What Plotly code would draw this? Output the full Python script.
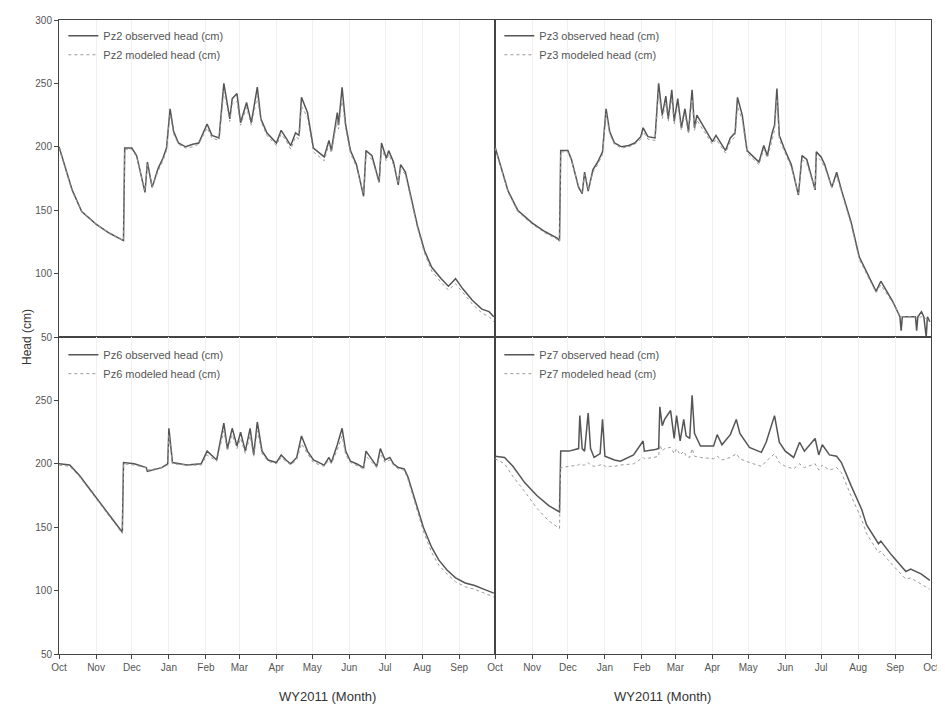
import pandas as pd
import plotly.graph_objects as go
from plotly.subplots import make_subplots

# ---------------- data (day of water year from 2010-10-01, head in cm) -------------
days2 = [0,5,11,19,31,42,52,54,55,61,65,72,74,78,83,87,90,92,93,96,100,106,112,117,124,128,134,138,143,145,149,152,157,161,166,169,174,182,186,190,194,198,201,203,208,213,222,226,228,233,234,237,240,244,249,255,257,262,268,270,274,276,280,284,286,290,295,300,306,312,320,326,332,338,346,354,360,364]
pz2_obs = [200,185,166,149,139,132,127,126,199,199,193,164,188,168,183,191,199,220,230,212,203,200,202,203,218,209,207,250,222,238,242,219,235,219,247,222,211,203,213,207,201,211,209,239,227,199,192,205,197,227,217,247,217,197,186,161,197,193,172,203,191,197,188,170,186,180,160,138,118,105,96,90,96,88,79,72,70,66]
pz2_mod = [199,184,165,149,139,132,127,126,198,198,192,165,186,168,181,189,197,216,226,210,202,199,200,202,215,207,205,244,220,234,236,217,231,217,240,220,209,201,210,205,198,208,206,232,223,196,189,202,195,222,214,238,214,195,184,163,194,190,172,199,189,194,186,171,183,178,158,136,116,102,93,87,92,85,76,69,66,62]

days3 = [0,5,11,19,31,42,52,54,55,61,64,70,73,75,78,82,86,90,92,93,96,100,106,112,117,122,124,128,134,137,140,143,145,148,150,153,156,159,162,165,167,169,182,185,193,197,201,203,207,211,221,225,228,232,234,236,238,242,248,254,257,261,268,269,273,276,282,286,290,298,305,315,319,323,333,339,340,341,352,353,354,357,359,361,362,364]
pz3_obs = [200,184,165,150,140,133,128,126,197,197,190,168,163,180,165,182,188,196,215,230,212,203,200,201,203,208,215,208,207,250,225,240,222,245,220,238,215,230,212,245,215,225,204,209,197,207,211,239,225,197,188,201,193,211,217,246,209,199,186,162,193,190,166,196,192,186,168,180,166,141,113,94,86,94,78,66,55,66,66,55,66,70,66,50,66,62]
pz3_mod = [199,183,164,149,139,132,127,125,196,196,189,169,164,178,166,180,186,194,212,226,210,202,199,200,202,206,212,206,205,243,222,235,220,238,218,233,213,226,210,238,213,221,202,206,195,204,208,232,221,195,186,198,191,207,213,238,206,197,184,163,190,187,166,193,189,184,168,177,164,139,111,92,85,91,77,67,66,66,66,65,65,66,65,64,64,62]

days6 = [0,9,17,30,41,52,53,54,63,73,74,86,91,92,95,107,119,124,132,138,141,145,149,152,156,160,163,166,170,175,182,186,190,194,199,203,208,213,222,226,228,233,237,240,244,249,255,257,262,266,269,273,277,280,284,289,292,298,305,312,318,325,332,340,348,356,364]
pz6_obs = [200,199,191,175,161,148,146,201,200,197,194,197,200,228,201,199,200,210,203,232,212,228,214,225,210,228,207,233,210,203,201,207,203,200,205,222,210,203,199,205,201,215,228,210,202,200,197,210,203,198,212,203,205,200,197,196,190,172,150,134,124,116,110,106,104,101,98]
pz6_mod = [199,198,190,174,160,147,145,200,199,197,195,197,199,223,200,199,199,207,202,226,210,223,212,220,208,222,206,226,208,202,200,205,202,199,203,216,208,201,198,203,200,211,222,207,201,199,196,206,201,197,208,201,203,199,196,195,188,169,147,130,120,113,107,103,101,98,95]

days7 = [0,8,15,25,35,45,54,55,62,70,71,73,75,78,80,83,88,90,92,100,105,116,124,125,133,137,138,140,142,147,150,152,155,158,160,163,165,167,172,183,186,190,197,202,205,213,223,227,234,238,243,250,255,259,268,271,274,280,286,290,298,307,311,321,323,332,344,348,357,364]
pz7_obs = [206,205,198,185,175,167,162,210,210,212,238,212,210,240,212,205,208,235,206,203,202,207,218,210,211,212,245,230,235,242,220,238,218,235,222,220,254,224,214,214,223,215,223,235,224,213,209,217,238,217,210,205,217,210,220,207,215,207,206,201,183,164,152,137,139,128,115,117,113,108]
pz7_mod = [204,200,190,178,165,155,149,197,198,199,200,199,199,201,199,198,199,200,198,198,199,200,205,204,205,206,215,210,212,213,208,212,207,210,206,205,212,206,205,204,206,203,205,208,204,201,198,202,208,201,198,196,200,197,200,195,199,195,197,193,175,156,145,130,131,121,109,110,105,101]

month_ticks = ["Oct","Nov","Dec","Jan","Feb","Mar","Apr","May","Jun","Jul","Aug","Sep","Oct"]
month_dates = ["2010-10-01","2010-11-01","2010-12-01","2011-01-01","2011-02-01","2011-03-01",
               "2011-04-01","2011-05-01","2011-06-01","2011-07-01","2011-08-01","2011-09-01","2011-10-01"]
head_ticks = [50, 100, 150, 200, 250, 300]

panels = [
    ("Pz2", days2, pz2_obs, pz2_mod, 1, 1),
    ("Pz3", days3, pz3_obs, pz3_mod, 1, 2),
    ("Pz6", days6, pz6_obs, pz6_mod, 2, 1),
    ("Pz7", days7, pz7_obs, pz7_mod, 2, 2),
]

start = pd.Timestamp("2010-10-01")

def to_dates(d):
    return start + pd.to_timedelta(d, unit="D")

FONT = "Liberation Sans, Arial, sans-serif"
fig = make_subplots(rows=2, cols=2, horizontal_spacing=0, vertical_spacing=0)

legend_names = ["legend", "legend2", "legend3", "legend4"]
for i, (name, d, obs, mod, r, c) in enumerate(panels):
    x = to_dates(d)
    fig.add_trace(go.Scatter(x=x, y=obs, mode="lines", name=f"{name} observed head (cm)",
                             line=dict(color="#555555", width=1.5), legend=legend_names[i]),
                  row=r, col=c)
    fig.add_trace(go.Scatter(x=x, y=mod, mode="lines", name=f"{name} modeled head (cm)",
                             line=dict(color="#9a9a9a", width=1, dash="dot"), legend=legend_names[i]),
                  row=r, col=c)

for r in (1, 2):
    for c in (1, 2):
        bottom = (r == 2)
        # left panel's final "Oct" coincides with right panel's first one: show it once
        labels = month_ticks[:-1] + [""] if c == 1 else month_ticks
        fig.update_xaxes(
            type="date", range=["2010-10-01", "2011-10-01"],
            tickvals=month_dates, ticktext=labels if bottom else None,
            showticklabels=bottom, ticks="outside" if bottom else "", ticklen=4,
            tickcolor="#444", showgrid=True, gridcolor="#f0f0f0", gridwidth=1,
            showline=True, mirror=True, linecolor="#444", linewidth=1,
            tickfont=dict(size=10, color="#555", family=FONT), zeroline=False,
            row=r, col=c)
        left = (c == 1)
        tv = head_ticks if r == 1 else head_ticks[:-1]
        fig.update_yaxes(
            range=[50, 300], tickvals=tv, showticklabels=left,
            ticks="outside" if left else "", ticklen=4, tickcolor="#444",
            showgrid=False, showline=True, mirror=True, linecolor="#444", linewidth=1,
            tickfont=dict(size=10, color="#555", family=FONT), zeroline=False,
            row=r, col=c)

leg_common = dict(bgcolor="rgba(0,0,0,0)", font=dict(size=11, color="#555", family=FONT),
                  xanchor="left", yanchor="top", tracegroupgap=0, itemwidth=30)
fig.update_layout(
    legend=dict(x=0.005, y=0.998, **leg_common),
    legend2=dict(x=0.505, y=0.998, **leg_common),
    legend3=dict(x=0.005, y=0.495, **leg_common),
    legend4=dict(x=0.505, y=0.495, **leg_common),
)

fig.add_annotation(text="Head (cm)", xref="paper", yref="paper", x=-0.047, y=0.5,
                   textangle=-90, showarrow=False,
                   font=dict(size=12, color="#333", family=FONT))
for xc in (0.25, 0.75):
    fig.add_annotation(text="WY2011 (Month)", xref="paper", yref="paper", x=xc, y=-0.067,
                       showarrow=False, yanchor="middle",
                       font=dict(size=13, color="#333", family=FONT))

# page body adds an 8px offset; size the figure so it fills the 945x708 window
fig.update_layout(
    width=937, height=700,
    margin=dict(l=51, r=10, t=6, b=54),
    paper_bgcolor="white", plot_bgcolor="white",
    font=dict(family=FONT),
)

fig.write_html("out.html")
